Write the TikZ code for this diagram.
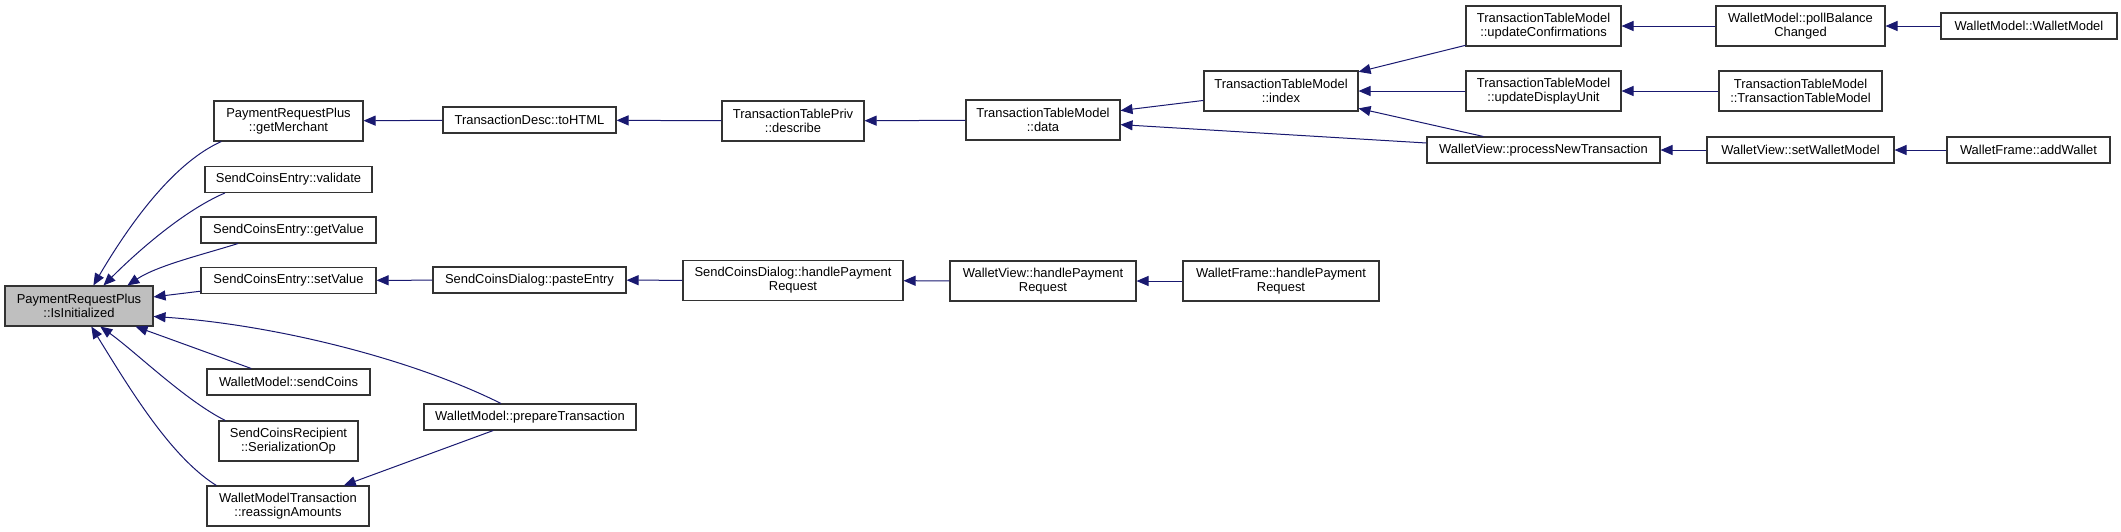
\documentclass[tikz,border=0pt]{standalone}
\usepackage{fontspec}
\setmainfont{Liberation Sans}
\usetikzlibrary{arrows.meta}
\definecolor{callblue}{RGB}{25,25,112}
\begin{document}
\begin{tikzpicture}[x=0.75pt, y=-0.75pt, every node/.style={font=\fontsize{9.7}{10.5}\selectfont},
  fn/.style={draw=black!80,line width=0.8pt,fill=white,align=center,inner sep=2pt,minimum height=19.5pt,minimum width=#1*0.75pt},
  fnn/.style={fn=#1,minimum height=30pt},
  call/.style={-{Triangle[length=9pt,width=7.5pt]},callblue,line width=0.75pt}]
  \useasboundingbox (0,0) rectangle (2121,532);
  \node[fnn=148,fill=black!25] (f1) at (79,306) {PaymentRequestPlus\\::IsInitialized};
  \node[fnn=149] (f2) at (288.5,121) {PaymentRequestPlus\\::getMerchant};
  \node[fn=167] (f3) at (288.5,179.5) {SendCoinsEntry::validate};
  \node[fn=175] (f4) at (288.5,230) {SendCoinsEntry::getValue};
  \node[fn=175] (f5) at (288.5,280.5) {SendCoinsEntry::setValue};
  \node[fn=163] (f6) at (288.5,382) {WalletModel::sendCoins};
  \node[fnn=139] (f7) at (288.5,441) {SendCoinsRecipient\\::SerializationOp};
  \node[fnn=162] (f8) at (288,506) {WalletModelTransaction\\::reassignAmounts};
  \node[fn=173] (f9) at (529.5,120) {TransactionDesc::toHTML};
  \node[fn=193] (f10) at (529.5,280) {SendCoinsDialog::pasteEntry};
  \node[fn=212] (f11) at (530,417) {WalletModel::prepareTransaction};
  \node[fnn=142] (f12) at (793,121) {TransactionTablePriv\\::describe};
  \node[fnn=220] (f13) at (793,280.5) {SendCoinsDialog::handlePayment\\Request};
  \node[fnn=154] (f14) at (1043,120) {TransactionTableModel\\::data};
  \node[fnn=186] (f15) at (1043,281) {WalletView::handlePayment\\Request};
  \node[fnn=154] (f16) at (1281,91) {TransactionTableModel\\::index};
  \node[fnn=196] (f17) at (1281,281) {WalletFrame::handlePayment\\Request};
  \node[fnn=155] (f18) at (1543.5,26) {TransactionTableModel\\::updateConfirmations};
  \node[fnn=155] (f19) at (1543.5,91) {TransactionTableModel\\::updateDisplayUnit};
  \node[fn=233] (f20) at (1543.5,150) {WalletView::processNewTransaction};
  \node[fnn=169] (f21) at (1800.5,26) {WalletModel::pollBalance\\Changed};
  \node[fnn=163] (f22) at (1800.5,91) {TransactionTableModel\\::TransactionTableModel};
  \node[fn=187] (f23) at (1800.5,150) {WalletView::setWalletModel};
  \node[fn=176] (f24) at (2029,26) {WalletModel::WalletModel};
  \node[fn=163] (f25) at (2028.5,150) {WalletFrame::addWallet};
  \draw[call] (f2.-163) .. controls +(-45,20) and +(40,-68) .. (f1.55);
  \draw[call] (f3.-168) .. controls +(-40,17) and +(35,-35) .. (f1.40);
  \draw[call] (f4.-165) .. controls +(-35,11) and +(30,-20) .. (f1.23);
  \draw[call] (f5) -- (f1); \draw[call] (f6) -- (f1);
  \draw[call] (f11.155) .. controls +(-90,-45) and +(120,8) .. (f1.-8);
  \draw[call] (f7.162) .. controls +(-40,-20) and +(35,25) .. (f1.-44);
  \draw[call] (f8.164) .. controls +(-45,-28) and +(40,65) .. (f1.-59);
  \draw[call] (f11) -- (f8); \draw[call] (f9) -- (f2);
  \draw[call] (f10) -- (f5); \draw[call] (f12) -- (f9);
  \draw[call] (f13) -- (f10); \draw[call] (f14) -- (f12);
  \draw[call] (f15) -- (f13); \draw[call] (f17) -- (f15);
  \draw[call] (f16) -- (f14); \draw[call] (f20) -- (f14);
  \draw[call] (f18) -- (f16); \draw[call] (f19) -- (f16);
  \draw[call] (f20) -- (f16); \draw[call] (f21) -- (f18);
  \draw[call] (f22) -- (f19); \draw[call] (f23) -- (f20);
  \draw[call] (f24) -- (f21); \draw[call] (f25) -- (f23);
\end{tikzpicture}
\end{document}
